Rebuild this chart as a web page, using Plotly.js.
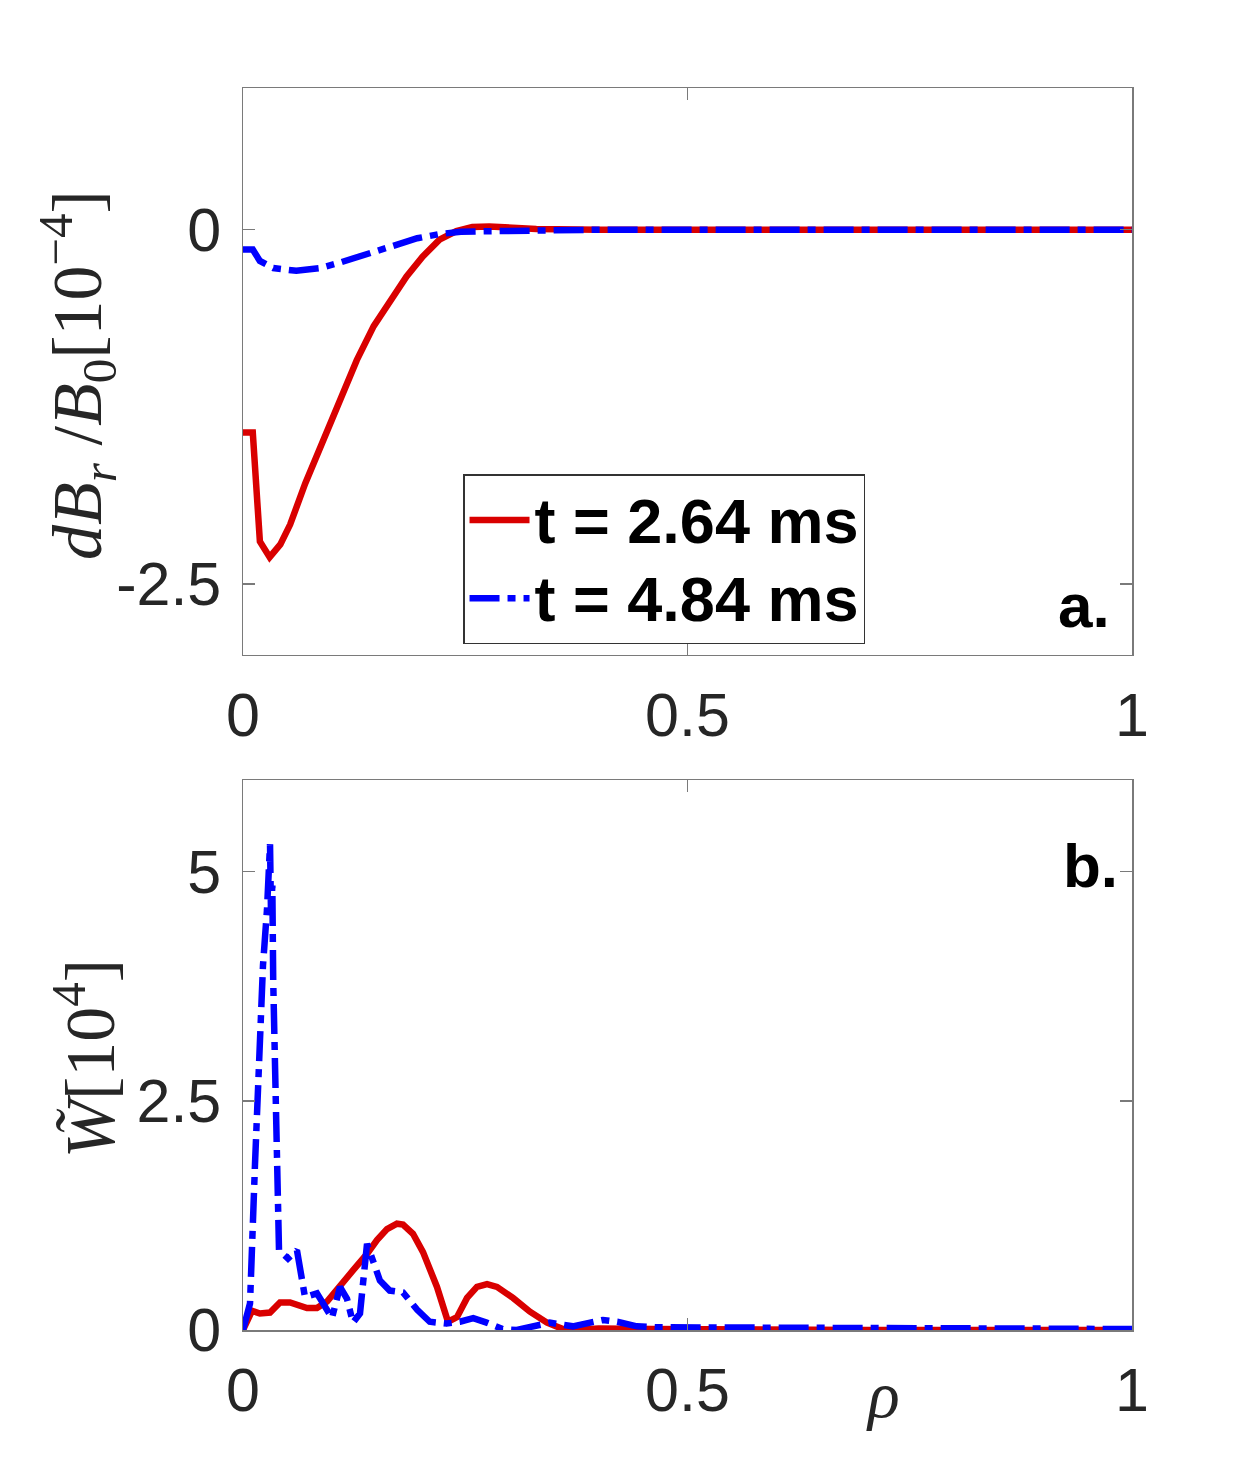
<!DOCTYPE html>
<html>
<head>
<meta charset="utf-8">
<script src="https://cdn.plot.ly/plotly-3.0.1.min.js"></script>
<style>html,body{margin:0;padding:0;background:#fff;}#chart{width:1252px;height:1458px;}</style>
</head>
<body>
<div id="chart"></div>
<script>
// ---- data ----
var seriesNames = ["t = 2.64 ms", "t = 4.84 ms"];

// panel a: dB_r/B_0 [1e-4]
var rhoA_red = [0, 0.011, 0.019, 0.030, 0.042, 0.053, 0.07, 0.09, 0.11, 0.128, 0.147, 0.166, 0.184, 0.202, 0.221, 0.24, 0.258, 0.277, 0.296, 0.33, 0.4, 0.5, 0.6, 0.7, 0.8, 0.9, 1.0];
var dBr_red  = [-1.43, -1.43, -2.20, -2.31, -2.22, -2.08, -1.79, -1.48, -1.18, -0.92, -0.68, -0.49, -0.33, -0.19, -0.07, -0.01, 0.02, 0.023, 0.015, 0.005, 0, 0, 0, 0, 0, 0, 0];

var rhoA_blue = [0, 0.011, 0.019, 0.034, 0.06, 0.087, 0.11, 0.135, 0.165, 0.196, 0.221, 0.245, 0.279, 0.33, 0.4, 0.5, 0.6, 0.7, 0.8, 0.9, 1.0];
var dBr_blue  = [-0.14, -0.14, -0.22, -0.27, -0.29, -0.27, -0.23, -0.18, -0.11, -0.06, -0.03, -0.015, -0.01, -0.005, 0, 0, 0, 0, 0, 0, 0];

// panel b: W~ [1e4]
var rhoB_red = [0, 0.0101, 0.019, 0.0304, 0.0416, 0.0529, 0.072, 0.0832, 0.0945, 0.1091, 0.1237, 0.1395, 0.1507, 0.162, 0.1732, 0.18, 0.1912, 0.2025, 0.2182, 0.2306, 0.2407, 0.252, 0.2632, 0.2745, 0.2857, 0.3037, 0.3228, 0.342, 0.36, 0.371, 0.40, 0.46, 0.51, 0.6, 0.7, 0.8, 0.9, 1.0];
var W_red    = [0, 0.21, 0.18, 0.19, 0.30, 0.30, 0.24, 0.24, 0.31, 0.47, 0.65, 0.83, 0.98, 1.10, 1.16, 1.15, 1.05, 0.85, 0.47, 0.09, 0.14, 0.35, 0.47, 0.50, 0.47, 0.35, 0.20, 0.08, 0.01, 0.0, 0.015, 0.01, 0.005, 0, 0, 0, 0, 0];

var rhoB_blue = [0, 0.0079, 0.0135, 0.019, 0.0225, 0.027, 0.0304, 0.0315, 0.033, 0.034, 0.038, 0.0405, 0.0506, 0.0607, 0.0697, 0.0832, 0.1001, 0.1091, 0.117, 0.1237, 0.1316, 0.1395, 0.154, 0.165, 0.18, 0.196, 0.21, 0.229, 0.244, 0.259, 0.274, 0.292, 0.308, 0.326, 0.345, 0.371, 0.387, 0.405, 0.421, 0.443, 0.466, 0.5, 0.55, 0.6, 0.7, 0.8, 0.9, 1.0];
var W_blue    = [0, 0.29, 1.81, 3.25, 3.98, 4.59, 5.30, 4.55, 4.85, 3.80, 2.17, 0.87, 0.78, 0.87, 0.36, 0.40, 0.13, 0.47, 0.34, 0.08, 0.18, 0.94, 0.54, 0.43, 0.41, 0.22, 0.09, 0.07, 0.09, 0.13, 0.08, 0.01, 0.0, 0.04, 0.08, 0.04, 0.07, 0.11, 0.09, 0.04, 0.03, 0.03, 0.025, 0.02, 0.02, 0.015, 0.015, 0.01];

var xTickVals = [0, 0.5, 1];
var xTickText = ["0", "0.5", "1"];
var yaTickVals = [-2.5, 0];
var yaTickText = ["-2.5", "0"];
var ybTickVals = [0, 2.5, 5];
var ybTickText = ["0", "2.5", "5"];

// ---- styling ----
var RED = "#d90000", BLUE = "#0000ff";
var LW = 6.5;
var DASHDOT = "30px,8px,8px,8px";
var tickFont = {family: "Liberation Sans, Arial, sans-serif", size: 61, color: "#262626"};
var axisCommon = {
  showgrid: false, zeroline: false, showline: true, mirror: "ticks",
  linecolor: "#7a7a7a", linewidth: 1.5,
  ticks: "inside", ticklen: 12, tickwidth: 1.5, tickcolor: "#7a7a7a",
  tickfont: tickFont, tickmode: "array"
};
function ax(extra){ var o = {}; for (var k in axisCommon) o[k] = axisCommon[k]; for (var k2 in extra) o[k2] = extra[k2]; return o; }
function legendLabel(s){ return '<span style="font-size:63px">' + s + '</span>'; }

var traces = [
  {x: rhoA_red, y: dBr_red, xaxis: "x", yaxis: "y", mode: "lines", name: legendLabel(seriesNames[0]),
   line: {color: RED, width: LW}, legendgroup: "r"},
  {x: rhoA_blue, y: dBr_blue, xaxis: "x", yaxis: "y", mode: "lines", name: legendLabel(seriesNames[1]),
   line: {color: BLUE, width: LW, dash: DASHDOT}, legendgroup: "b"},
  {x: rhoB_red, y: W_red, xaxis: "x2", yaxis: "y2", mode: "lines", name: seriesNames[0],
   line: {color: RED, width: LW}, showlegend: false},
  {x: rhoB_blue, y: W_blue, xaxis: "x2", yaxis: "y2", mode: "lines", name: seriesNames[1],
   line: {color: BLUE, width: LW, dash: DASHDOT}, showlegend: false}
];

var titleFont = {family: "Liberation Serif, Times New Roman, serif", size: 70, color: "#262626"};

var layout = {
  width: 1252, height: 1458,
  margin: {l: 243, r: 120, t: 88, b: 128},
  paper_bgcolor: "#fff", plot_bgcolor: "#fff",
  showlegend: true,
  legend: {
    x: 0.2475, y: 0.689, xanchor: "left", yanchor: "top",
    bgcolor: "#fff", bordercolor: "#333", borderwidth: 1.5,
    font: {family: "Liberation Sans, Arial, sans-serif", size: 58, color: "#000", weight: "bold"},
    itemwidth: 60, tracegroupgap: 0
  },
  xaxis: ax({domain: [0, 1], range: [0, 1], anchor: "y", tickvals: xTickVals, ticktext: xTickText, ticklabelstandoff: 6}),
  yaxis: ax({domain: [0.5435, 1], range: [-3, 1], anchor: "x", tickvals: yaTickVals, ticktext: yaTickText, ticklabelstandoff: 8}),
  xaxis2: ax({domain: [0, 1], range: [0, 1], anchor: "y2", tickvals: xTickVals, ticktext: xTickText, ticklabelstandoff: 6}),
  yaxis2: ax({domain: [0, 0.4428], range: [0, 6], anchor: "x2", tickvals: ybTickVals, ticktext: ybTickText, ticklabelstandoff: 8}),
  annotations: [
    {xref: "paper", yref: "paper", x: -0.1856, y: 0.769, textangle: -90, showarrow: false,
     xanchor: "center", yanchor: "middle",
     text: "<i>dB</i><sub><i>r</i></sub> /<i>B</i><sub>0</sub>[10<sup>\u22124</sup>]", font: titleFont},
    {xref: "paper", yref: "paper", x: -0.1777, y: 0.218, textangle: -90, showarrow: false,
     xanchor: "center", yanchor: "middle",
     text: "<i>W\u0303</i>[10<sup>4</sup>]", font: titleFont},
    {xref: "paper", yref: "paper", x: 0.72, y: -0.0523, showarrow: false,
     xanchor: "center", yanchor: "middle",
     text: "<i>\u03c1</i>", font: {family: "Liberation Serif, serif", size: 66, color: "#262626"}},
    {xref: "paper", yref: "paper", x: 0.9775, y: 0.5837, showarrow: false,
     xanchor: "right", yanchor: "middle",
     text: "<b>a.</b>", font: {family: "Liberation Sans, Arial, sans-serif", size: 62, color: "#000"}},
    {xref: "paper", yref: "paper", x: 0.9865, y: 0.3736, showarrow: false,
     xanchor: "right", yanchor: "middle",
     text: "<b>b.</b>", font: {family: "Liberation Sans, Arial, sans-serif", size: 62, color: "#000"}}
  ]
};

Plotly.newPlot("chart", traces, layout, {staticPlot: true, displayModeBar: false});
</script>
</body>
</html>
